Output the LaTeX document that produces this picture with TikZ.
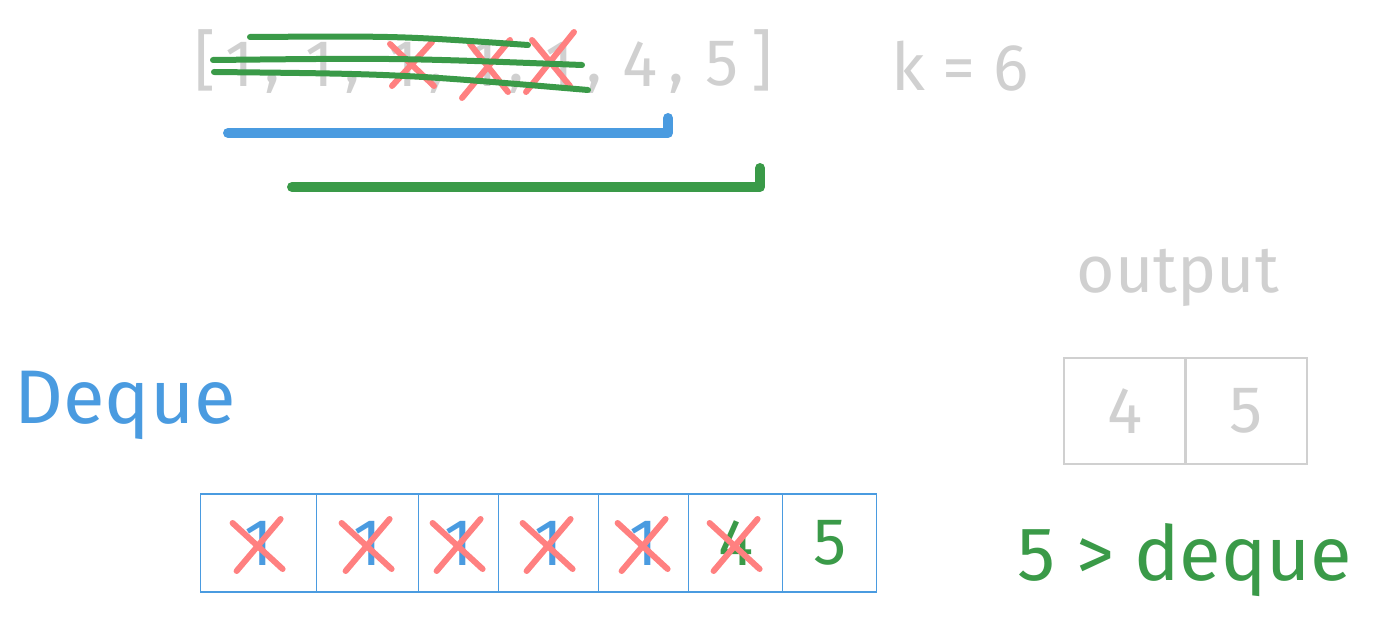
\documentclass[tikz,border=0pt]{standalone}
\usepackage{fontspec}
\setmainfont{Fira Sans}
\definecolor{hgrey}{HTML}{D0D0D0}
\definecolor{hblue}{HTML}{4A9BE0}
\definecolor{hgreen}{HTML}{3A9A48}
\definecolor{hred}{HTML}{FF8080}
\tikzset{
  big/.style={font=\fontsize{66}{70}\selectfont},
  huge/.style={font=\fontsize{76}{80}\selectfont},
  cellbox/.style={draw=hblue, line width=1.2pt, minimum height=98pt, anchor=west, inner sep=0pt},
  outbox/.style={draw=hgrey, line width=1.2pt, minimum width=122pt, minimum height=106pt, inner sep=0pt},
  cross/.style={hred, line width=6pt, line cap=round},
  strike/.style={hgreen, line width=6pt, line cap=round},
}
\begin{document}
\begin{tikzpicture}[x=1pt,y=-1pt]
\useasboundingbox (0,0) rectangle (1375,628);

% Array and window size
\foreach \x/\d/\n in {240/1/a1,320/1/a2,404/1/a3,484/1/a4,560/1/a5,640/4/a6,722/5/a7}
  \node[big, text=hgrey] (\n) at (\x,64) {\d};
\foreach \x in {272,352,436,516,594,676}
  \node[big, text=hgrey] at (\x,84) {,};
\node[big, text=hgrey] (lb) at (205,60) {[};
\node[big, text=hgrey] (rb) at (762,60) {]};
\node[big, text=hgrey] (k) at (960,66) {k = 6};

% Removed elements
\draw[cross] (390,44) -- (434,86) (432,42) -- (392,86);
\draw[cross] (462,98) -- (510,40) (470,44) -- (508,92);
\draw[cross] (526,92) -- (574,32) (532,40) -- (570,86);
\draw[strike] (250,37) .. controls (400,36) .. (528,45);
\draw[strike] (213,60) .. controls (400,58) .. (582,65);
\draw[strike] (214,72) .. controls (400,74) .. (588,90);

% Windows
\draw[hblue, line width=10pt, line cap=round, line join=round]
  (228,133) -- (668,133) -- (668,118);
\draw[hgreen, line width=10pt, line cap=round, line join=round]
  (292,187) -- (760,187) -- (760,168);

% Output
\node[big, text=hgrey] (outlbl) at (1178,278) {output};
\node[outbox] (o1) at (1125,411) {};
\node[outbox] (o2) at (1246,411) {};
\node[big, text=hgrey] at (o1) {4};
\node[big, text=hgrey] at (o2) {5};

% Deque
\node[huge, text=hblue] (dq) at (125,405) {Deque};
\foreach \x/\w/\d/\c/\n in {200/116/1/hblue/c1,316/102/1/hblue/c2,418/80/1/hblue/c3,498/100/1/hblue/c4,598/90/1/hblue/c5,688/94/4/hgreen/c6,782/94/5/hgreen/c7}
  \node[cellbox, minimum width=\w pt, big, text=\c] (\n) at (\x,543) {\d};
\foreach \n in {c1,c2,c3,c4,c5,c6}
  \draw[cross] ([shift={(-26,-20)}]\n.center) -- ([shift={(24,26)}]\n.center)
               ([shift={(22,-24)}]\n.center) -- ([shift={(-22,28)}]\n.center);
\node[huge, text=hgreen] (cmp) at (1185,560) {5 > deque};
\end{tikzpicture}
\end{document}
